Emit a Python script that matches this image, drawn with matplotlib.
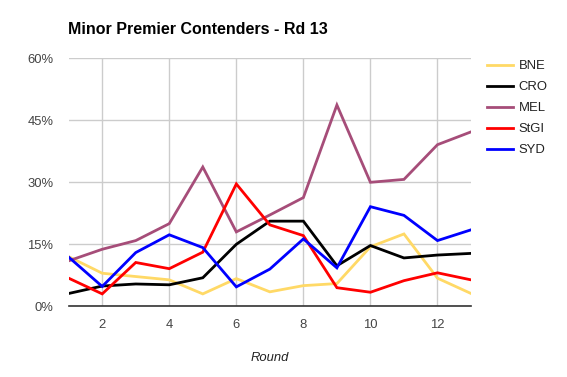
import matplotlib
matplotlib.use("Agg")
import matplotlib.pyplot as plt
from matplotlib.ticker import FuncFormatter

rounds = list(range(1, 14))
bne = [12.0, 8.0, 7.2, 6.4, 3.0, 6.7, 3.5, 5.0, 5.5, 14.4, 17.5, 6.8, 3.1]
cro = [3.1, 4.9, 5.4, 5.2, 6.9, 15.0, 20.6, 20.6, 9.8, 14.7, 11.7, 12.4, 12.8]
mel = [11.0, 13.8, 15.9, 20.0, 33.7, 18.0, 22.1, 26.3, 48.7, 30.0, 30.7, 39.1, 42.2]
stgi = [6.8, 3.0, 10.6, 9.1, 13.1, 29.6, 19.7, 17.1, 4.5, 3.4, 6.2, 8.1, 6.4]
syd = [11.9, 4.8, 13.0, 17.3, 14.2, 4.7, 9.0, 16.3, 9.3, 24.1, 22.0, 15.9, 18.5]

series = [("BNE", bne, "#FFD966"), ("CRO", cro, "#000000"), ("MEL", mel, "#A64D79"),
          ("StGI", stgi, "#FF0000"), ("SYD", syd, "#0000FF")]
xticks = [2, 4, 6, 8, 10, 12]
yticks = [0, 15, 30, 45, 60]

plt.rcParams['font.family'] = ['Liberation Sans', 'DejaVu Sans']
fig = plt.figure(figsize=(5.67, 3.77), dpi=100)
ax = fig.add_axes([68.7/567, 1-306.3/377, (471-68.7)/567, (306.3-58.3)/377])

for name, vals, col in series:
    ax.plot(rounds, vals, color=col, lw=2, label=name, solid_joinstyle='miter')

ax.set_xlim(1, 13)
ax.set_ylim(0, 60)
ax.set_xticks(xticks)
ax.set_yticks(yticks)
ax.yaxis.set_major_formatter(FuncFormatter(lambda v, p: f"{int(v)}%"))
ax.grid(True, color="#cccccc", lw=1)
ax.set_axisbelow(True)
for s in ["top", "right", "left"]:
    ax.spines[s].set_visible(False)
ax.spines["bottom"].set_color("#333333")
ax.spines["bottom"].set_linewidth(1.2)
ax.spines["bottom"].set_zorder(5)
ax.tick_params(length=0, labelsize=9.4, labelcolor="#444444")
ax.tick_params(axis='x', pad=9)
ax.tick_params(axis='y', pad=11)
ax.set_xlabel("Round", style="italic", fontsize=9.4, color="#222222", labelpad=15)

fig.text(68/567, 1-29/377, "Minor Premier Contenders - Rd 13", fontsize=11.5,
         fontweight="bold", va="center", ha="left", color="#000000")

leg = ax.legend(loc="upper left", bbox_to_anchor=(482/567, 1-55/377), bbox_transform=fig.transFigure,
                frameon=False, fontsize=9.4, handlelength=2.0, handletextpad=0.4,
                labelspacing=0.68, borderaxespad=0)
for t in leg.get_texts():
    t.set_color("#222222")

fig.savefig("out.png", dpi=100)
